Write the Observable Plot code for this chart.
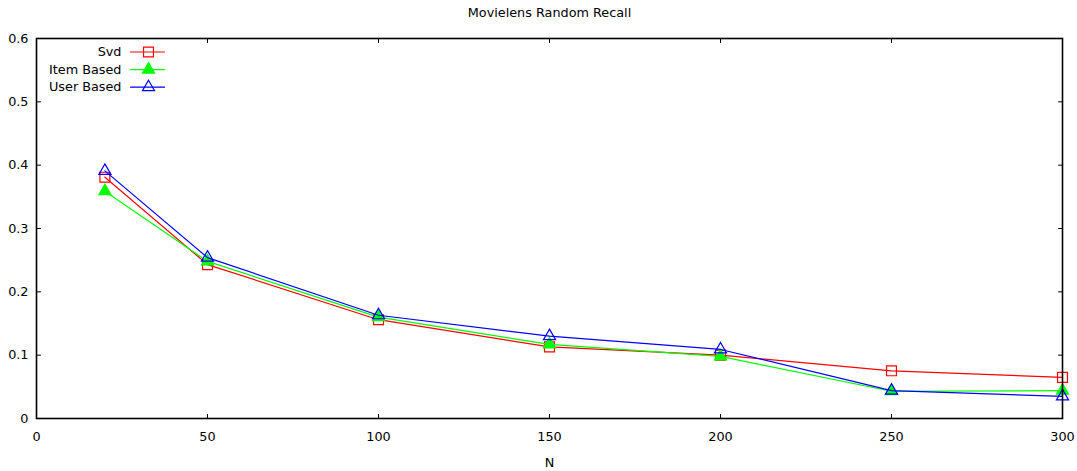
<!DOCTYPE html>
<html>
<head>
<meta charset="utf-8">
<script src="https://cdn.jsdelivr.net/npm/d3@7"></script>
<script src="https://cdn.jsdelivr.net/npm/@observablehq/plot@0.6"></script>
<style>
  html, body { margin: 0; padding: 0; background: #fff; }
  #chart svg { display: block; }
</style>
</head>
<body>
<div id="chart"></div>
<script>
const title = "Movielens Random Recall";
const xLabel = "N";
const N = [20, 50, 100, 150, 200, 250, 300];
const svd = [0.381, 0.243, 0.156, 0.113, 0.100, 0.0753, 0.065];
const itemBased = [0.359, 0.248, 0.160, 0.117, 0.098, 0.043, 0.044];
const userBased = [0.391, 0.254, 0.163, 0.130, 0.109, 0.044, 0.035];
const xTicks = [0, 50, 100, 150, 200, 250, 300];
const yTicks = [0, 0.1, 0.2, 0.3, 0.4, 0.5, 0.6];
const seriesNames = ["Svd", "Item Based", "User Based"];
const seriesColors = ["#ff0000", "#00ff00", "#0000ff"];

const FS = 12.8;
const rows = (vals) => N.map((n, i) => ({n, v: vals[i]}));
const tickShape = {draw(ctx, l) { ctx.moveTo(0, 0); ctx.lineTo(0, -l); }};
const lineShape = {draw(ctx, l) { ctx.moveTo(0, 0); ctx.lineTo(0, -l); }};

const symR = {square: 5.6, triangle: 4.5};
const symbols = ["square", "triangle", "triangle"];
const fills = ["none", seriesColors[1], "none"];
const seriesData = [svd, itemBased, userBased];

const marks = [];
// series lines + markers
seriesData.forEach((vals, i) => {
  marks.push(Plot.line(rows(vals), {x: "n", y: "v", stroke: seriesColors[i], strokeWidth: 1.2}));
  marks.push(Plot.dot(rows(vals), {x: "n", y: "v", symbol: symbols[i], r: symR[symbols[i]],
    stroke: seriesColors[i], fill: fills[i], strokeWidth: 1.2}));
});
// inner ticks (mirror on all sides)
marks.push(Plot.vector(yTicks, {y: d => d, frameAnchor: "left", rotate: 90, length: 4, anchor: "start", shape: tickShape, stroke: "#000", strokeWidth: 1}));
marks.push(Plot.vector(yTicks, {y: d => d, frameAnchor: "right", rotate: -90, length: 4, anchor: "start", shape: tickShape, stroke: "#000", strokeWidth: 1}));
marks.push(Plot.vector(xTicks, {x: d => d, frameAnchor: "bottom", rotate: 0, length: 4, anchor: "start", shape: tickShape, stroke: "#000", strokeWidth: 1}));
marks.push(Plot.vector(xTicks, {x: d => d, frameAnchor: "top", rotate: 180, length: 4, anchor: "start", shape: tickShape, stroke: "#000", strokeWidth: 1}));
marks.push(Plot.frame({stroke: "#000", strokeWidth: 1.6}));
// axes labels
marks.push(Plot.axisX(xTicks, {tickSize: 0, tickPadding: 13, tickFormat: d => String(d), label: null, fontSize: FS}));
marks.push(Plot.axisY(yTicks, {tickSize: 0, tickPadding: 8, tickFormat: d => d === 0 ? "0" : d3.format(".1f")(d), label: null, fontSize: FS}));
// title and x label
marks.push(Plot.text([title], {text: d => d, frameAnchor: "top", lineAnchor: "middle", dy: -26, fontSize: FS}));
marks.push(Plot.text([xLabel], {text: d => d, frameAnchor: "bottom", lineAnchor: "middle", dy: 44, fontSize: FS}));
// legend
seriesNames.forEach((name, i) => {
  const dy = 13.5 + i * 17.6;
  marks.push(Plot.text([name], {text: d => d, frameAnchor: "top-left", lineAnchor: "middle", dx: 85, dy, textAnchor: "end", fontSize: FS}));
  marks.push(Plot.vector([name], {frameAnchor: "top-left", dx: 94, dy, rotate: 90, length: 34, anchor: "start", shape: lineShape, stroke: seriesColors[i], strokeWidth: 1.2}));
  marks.push(Plot.dot([name], {frameAnchor: "top-left", dx: 112, dy, symbol: symbols[i], r: symR[symbols[i]], stroke: seriesColors[i], fill: fills[i], strokeWidth: 1.2}));
});

const chart = Plot.plot({
  width: 1077,
  height: 471,
  marginLeft: 36,
  marginRight: 15,
  marginTop: 38,
  marginBottom: 53,
  style: {fontFamily: "DejaVu Sans", fontSize: FS + "px", color: "#000", background: "#fff"},
  x: {domain: [0, 300], axis: null},
  y: {domain: [0, 0.6], axis: null},
  marks
});
document.getElementById("chart").appendChild(chart);
</script>
</body>
</html>
